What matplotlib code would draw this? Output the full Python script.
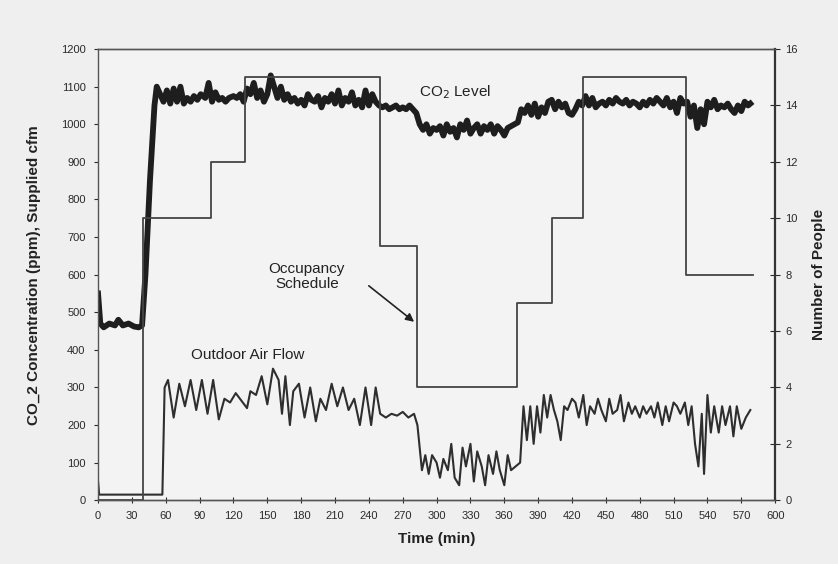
import numpy as np
import matplotlib
matplotlib.use("Agg")
import matplotlib.pyplot as plt

plt.rcParams['font.family'] = ['Liberation Sans', 'DejaVu Sans']

# --- DATA ---
# Occupancy schedule: step changes (minute, number of people)
occ_time = [0, 40, 100, 130, 250, 283, 371, 402, 430, 521, 580]
occ_people = [0, 10, 12, 15, 9, 4, 7, 10, 15, 8, 8]

# CO2 level (ppm)
co2_time = [0, 2, 5, 10, 15, 18, 22, 27, 32, 36, 39, 42, 46, 50, 52, 55, 58, 61, 64, 67,
            70, 73, 76, 79, 82, 85, 88, 91, 95, 98, 101, 104, 107, 110, 113, 116, 120, 123,
            126, 129, 132, 135, 138, 141, 144, 147, 150, 153, 156, 159, 162, 165, 168, 171,
            174, 177, 180, 183, 186, 189, 192, 195, 198, 201, 204, 207, 210, 213, 216, 219,
            222, 225, 228, 231, 234, 237, 240, 243, 246, 249, 252, 255, 258, 261, 264, 267,
            270, 273, 276, 279, 282, 285, 288, 291, 294, 297, 300, 303, 306, 309, 312, 315,
            318, 321, 324, 327, 330, 333, 336, 339, 342, 345, 348, 351, 354, 357, 360, 363,
            366, 369, 372, 375, 378, 381, 384, 387, 390, 393, 396, 399, 402, 405, 408, 411,
            414, 417, 420, 423, 426, 429, 432, 435, 438, 441, 444, 447, 450, 453, 456, 459,
            462, 465, 468, 471, 474, 477, 480, 483, 486, 489, 492, 495, 498, 501, 504, 507,
            510, 513, 516, 519, 522, 525, 528, 531, 534, 537, 540, 543, 546, 549, 552, 555,
            558, 561, 564, 567, 570, 573, 576, 578]
co2_ppm = [550, 470, 460, 470, 465, 480, 465, 470, 462, 460, 465, 600, 850, 1050, 1100, 1080,
           1060, 1090, 1055, 1095, 1060, 1100, 1055, 1070, 1060, 1075, 1065, 1080, 1070, 1110,
           1060, 1085, 1065, 1070, 1060, 1070, 1075, 1070, 1080, 1060, 1095, 1080, 1110, 1070,
           1090, 1060, 1080, 1130, 1100, 1070, 1100, 1065, 1080, 1060, 1070, 1055, 1065, 1050,
           1080, 1065, 1060, 1075, 1045, 1070, 1060, 1080, 1055, 1090, 1050, 1070, 1060, 1085,
           1050, 1065, 1045, 1090, 1050, 1080, 1060, 1050, 1045, 1050, 1040, 1045, 1050, 1040,
           1045, 1040, 1050, 1040, 1030, 1000, 985, 1000, 975, 990, 985, 995, 970, 1000, 980,
           990, 965, 1000, 985, 1010, 975, 990, 1000, 975, 995, 985, 1000, 975, 995, 985, 970,
           990, 995, 1000, 1005, 1040, 1030, 1050, 1025, 1055, 1020, 1045, 1030, 1060, 1065,
           1040, 1060, 1045, 1055, 1030, 1025, 1040, 1060, 1050, 1075, 1050, 1070, 1045, 1055,
           1060, 1050, 1065, 1055, 1070, 1060, 1055, 1065, 1050, 1060, 1055, 1045, 1060, 1050,
           1065, 1055, 1070, 1060, 1050, 1070, 1045, 1060, 1030, 1070, 1055, 1060, 1020, 1050,
           990, 1040, 1000, 1060, 1045, 1065, 1040, 1050, 1045, 1055, 1040, 1030, 1050, 1035,
           1060, 1050, 1055]

# Outdoor air flow (cfm)
oa_time = [0, 1, 57, 59, 62, 67, 72, 77, 82, 87, 92, 97, 102, 107, 112, 117, 122, 127, 132,
           135, 140, 145, 150, 155, 160, 163, 166, 170, 173, 178, 183, 188, 193, 197, 202, 207,
           212, 217, 222, 227, 232, 237, 242, 246, 250, 255, 260, 265, 270, 275, 280, 283, 287,
           290, 293, 296, 300, 303, 306, 310, 313, 316, 320, 323, 326, 330, 333, 336, 340, 343,
           346, 350, 353, 356, 360, 363, 366, 370, 374, 377, 380, 383, 386, 389, 392, 395, 398,
           401, 404, 407, 410, 413, 416, 420, 423, 426, 430, 433, 436, 440, 443, 446, 450, 453,
           456, 460, 463, 466, 470, 473, 476, 480, 483, 486, 490, 493, 496, 500, 503, 506, 510,
           513, 516, 520, 523, 526, 529, 532, 535, 537, 540, 543, 546, 550, 553, 556, 560, 563,
           566, 570, 574, 578]
oa_cfm = [50, 15, 15, 300, 320, 220, 310, 250, 320, 240, 320, 230, 320, 215, 270, 260, 285,
          265, 245, 290, 280, 330, 255, 350, 320, 230, 330, 200, 290, 310, 220, 300, 210, 270,
          240, 310, 250, 300, 240, 270, 200, 300, 200, 300, 230, 220, 230, 225, 235, 220, 230,
          200, 80, 120, 70, 120, 100, 60, 110, 80, 150, 60, 40, 140, 90, 150, 50, 130, 90, 40,
          120, 70, 130, 80, 40, 120, 80, 90, 100, 250, 160, 250, 150, 250, 180, 280, 220, 280,
          240, 210, 160, 250, 240, 270, 260, 220, 280, 200, 250, 230, 270, 240, 210, 270, 230,
          240, 280, 210, 260, 230, 250, 220, 250, 230, 250, 220, 260, 200, 250, 210, 260, 250,
          230, 260, 200, 250, 150, 90, 230, 70, 280, 180, 250, 180, 250, 200, 250, 170, 250,
          190, 220, 240]

xticks = list(range(0, 601, 30))
yticks_left = list(range(0, 1201, 100))
yticks_right = list(range(0, 17, 2))

# --- PLOT ---
fig = plt.figure(figsize=(8.38, 5.64), dpi=100, facecolor='#efefef')
ax = fig.add_axes([0.117, 0.113, 0.808, 0.8])
ax.set_facecolor('#f3f3f3')
ax2 = ax.twinx()

ax.plot(oa_time, oa_cfm, color='#2e2e2e', lw=1.5, solid_joinstyle='round')
ax.plot(co2_time, co2_ppm, color='#1e1e1e', lw=4.2, solid_joinstyle='round')
ax2.step(occ_time, occ_people, where='post', color='#444444', lw=1.3)

ax.set_xlim(0, 600)
ax.set_ylim(0, 1200)
ax2.set_ylim(0, 16)
ax.set_xticks(xticks)
ax.set_yticks(yticks_left)
ax2.set_yticks(yticks_right)

for a in (ax, ax2):
    for s in a.spines.values():
        s.set_color('#555555')
        s.set_linewidth(1.0)
ax.spines['right'].set_visible(False)
ax2.spines['left'].set_visible(False)
ax2.spines['right'].set_linewidth(1.6)
ax2.spines['right'].set_color('#333333')

ax.tick_params(axis='x', direction='inout', length=4, labelsize=8, colors='#2a2a2a', pad=6)
ax.tick_params(axis='y', direction='out', length=3, labelsize=8, colors='#2a2a2a', pad=6)
ax2.tick_params(axis='y', direction='inout', length=7, labelsize=8, colors='#2a2a2a', pad=4)

ax.set_xlabel('Time (min)', fontsize=11, fontweight='bold', color='#222222', labelpad=8)
ax.set_ylabel('CO_2 Concentration (ppm), Supplied cfm', fontsize=11, fontweight='bold',
              color='#222222', labelpad=14)
ax2.set_ylabel('Number of People', fontsize=11, fontweight='bold', color='#222222', labelpad=10)

ax.text(284, 1085, 'CO$_2$ Level', fontsize=11, color='#222222', va='center', ha='left')
ax.text(82, 386, 'Outdoor Air Flow', fontsize=11, color='#222222', va='center', ha='left')
ax.text(185, 596, 'Occupancy\nSchedule', fontsize=11, color='#222222', va='center',
        ha='center', linespacing=1.1)
ax.annotate('', xy=(282, 470), xytext=(238, 575),
            arrowprops=dict(arrowstyle='-|>', color='#222222', lw=1.2, mutation_scale=12))

fig.savefig('out.png', dpi=100, facecolor=fig.get_facecolor())
